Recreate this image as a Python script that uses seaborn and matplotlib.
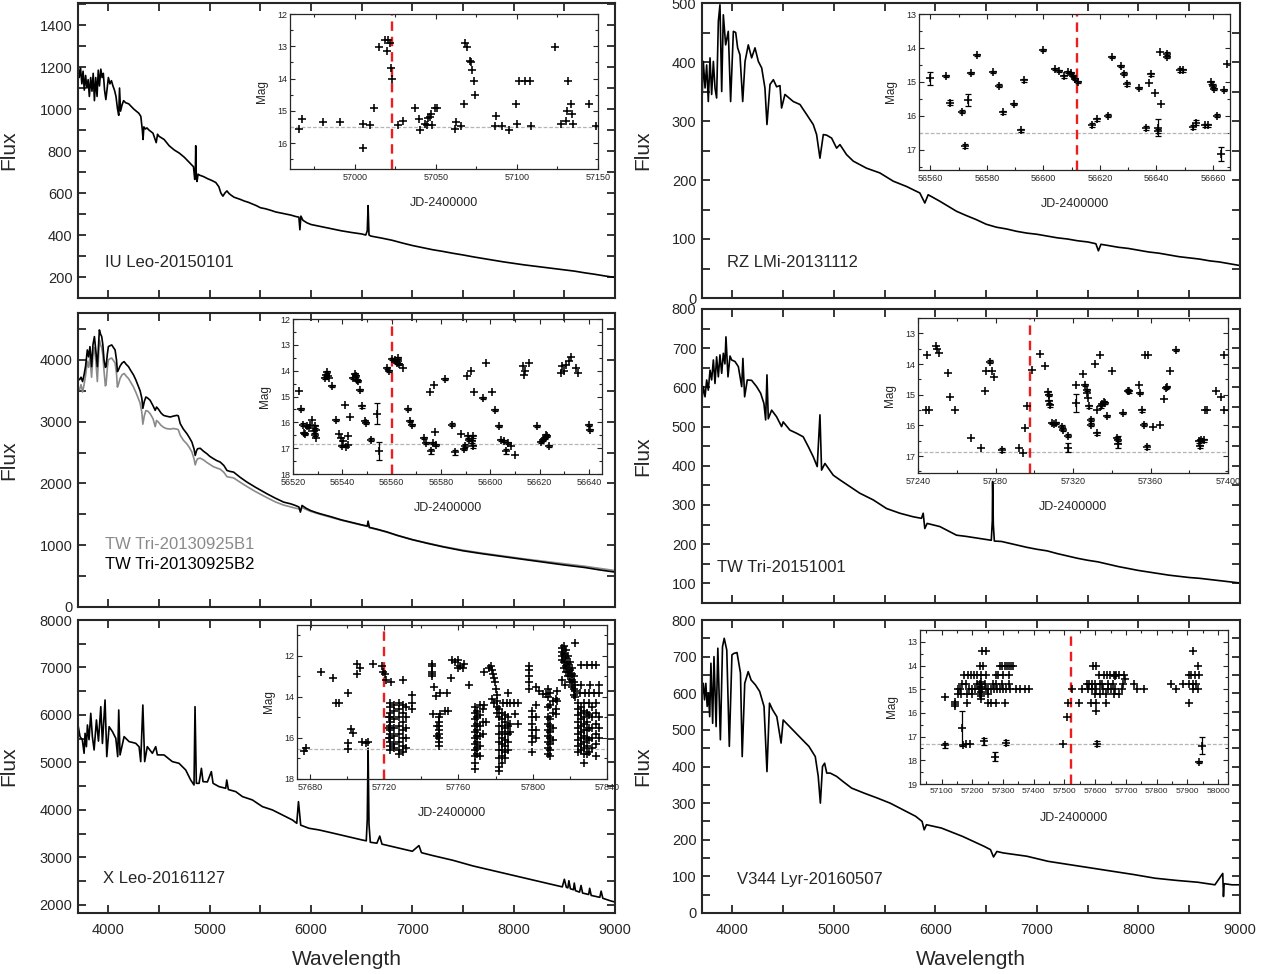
import matplotlib
matplotlib.use("Agg")
import matplotlib.pyplot as plt
import seaborn as sns
from matplotlib.ticker import MultipleLocator

sns.set_style("ticks")
plt.rcParams['font.family'] = ['Liberation Sans', 'DejaVu Sans']

# ---------------- spectra ----------------
iu_wl = [3700,3712,3725,3738,3750,3762,3775,3788,3800,3812,3825,3838,3850,3862,3875,3888,3900,3912,3925,3938,3950,3962,3975,3988,4000,4015,4030,4045,4060,4075,4090,4102,4110,4120,4135,4150,4170,4200,4250,4300,4320,4335,4342,4350,4365,4380,4400,4440,4472,4485,4500,4550,4600,4650,4700,4750,4800,4840,4852,4858,4862,4868,4875,4885,4900,4940,4980,5020,5060,5090,5110,5130,5150,5170,5190,5210,5240,5270,5300,5340,5380,5420,5460,5500,5550,5600,5650,5700,5750,5800,5850,5880,5890,5900,5920,5960,6000,6100,6200,6300,6400,6500,6540,6555,6563,6572,6590,6700,6800,6900,7000,7100,7200,7300,7400,7500,7600,7700,7800,7900,8000,8100,8200,8300,8400,8500,8600,8700,8800,8900,9000]
iu_fl = [1210,1150,1195,1120,1180,1090,1160,1100,1140,1060,1150,1085,1170,1040,1150,1060,1185,1110,1190,1150,1170,1090,1045,1100,1150,1120,1135,1110,1090,1060,1000,970,1100,990,1020,1040,1030,1025,1000,980,965,900,855,915,905,910,900,885,840,880,870,855,825,805,790,770,745,725,665,700,825,670,655,690,685,678,668,660,650,630,600,585,600,610,598,590,580,575,570,562,556,548,540,530,525,518,510,505,500,495,488,485,425,490,470,458,450,440,430,420,412,405,400,420,540,400,395,385,375,362,350,340,330,322,313,305,296,288,280,272,265,258,252,246,240,234,228,220,213,205,198]

rz_wl = [3700,3713,3730,3746,3762,3779,3795,3812,3828,3844,3861,3877,3894,3910,3933,3959,3982,4009,4032,4051,4074,4101,4124,4156,4189,4222,4255,4288,4320,4340,4370,4403,4435,4468,4484,4517,4599,4665,4731,4796,4829,4862,4895,4928,4977,5026,5059,5124,5190,5321,5452,5584,5715,5846,5895,5928,6043,6207,6300,6400,6500,6600,6700,6800,6900,7000,7100,7200,7300,7400,7500,7580,7605,7630,7700,7800,7900,8000,8100,8200,8300,8400,8500,8600,8700,8800,8900,9000]
rz_fl = [333,401,356,395,333,407,345,401,356,339,469,497,350,480,429,452,333,452,450,424,412,333,401,429,407,424,401,390,356,294,362,370,358,360,322,345,333,328,311,294,277,237,277,276,271,254,260,243,232,220,212,198,189,178,161,175,164,147,140,133,125,120,117,113,110,108,105,102,100,97,95,92,80,91,89,86,84,81,78,76,73,70,68,66,63,61,58,55]

tw13_wl = [3700,3715,3730,3745,3760,3775,3792,3805,3818,3834,3848,3862,3876,3891,3911,3922,3934,3945,3957,3970,3977,3990,4000,4015,4033,4050,4066,4080,4089,4102,4115,4135,4155,4175,4198,4220,4248,4270,4297,4313,4330,4340,4355,4370,4390,4412,4440,4462,4475,4495,4520,4544,4570,4610,4640,4676,4690,4709,4740,4775,4800,4824,4845,4857,4870,4880,4906,4940,4972,5000,5038,5070,5104,5140,5170,5200,5236,5300,5368,5450,5565,5650,5730,5800,5845,5880,5895,5911,5950,5993,6050,6092,6200,6300,6400,6500,6555,6563,6575,6650,6750,6850,7000,7150,7300,7500,7700,7900,8100,8300,8500,8700,8850,9000]
tw13_b2 = [3703,3680,3720,3650,3760,3900,4162,4050,4216,3892,4250,4378,4150,3892,4486,4420,4378,4250,4000,3880,3892,4100,4216,4230,4243,4200,4162,4000,3811,3850,3900,3950,3973,3930,3892,3830,3757,3680,3568,3500,3380,3216,3330,3400,3380,3346,3260,3184,3238,3200,3140,3103,3090,3076,3090,3103,3095,2968,2880,2806,2740,2670,2560,2454,2530,2562,2570,2520,2482,2440,2400,2370,2346,2290,2211,2195,2184,2100,2022,1940,1833,1760,1698,1670,1644,1620,1536,1644,1600,1563,1530,1509,1460,1410,1370,1330,1310,1390,1290,1260,1215,1160,1090,1030,975,910,860,815,770,725,680,640,600,565]
tw13_b1 = [3550,3520,3600,3480,3600,3750,3980,3880,4050,3720,4080,4200,3980,3650,4320,4250,4200,4080,3820,3580,3600,3880,4000,4020,4030,3990,3950,3780,3560,3620,3700,3760,3780,3740,3700,3640,3560,3480,3370,3300,3150,2960,3100,3180,3170,3130,3050,2920,3020,2990,2940,2910,2890,2880,2890,2880,2870,2780,2700,2640,2580,2510,2400,2300,2370,2400,2410,2380,2340,2310,2270,2250,2230,2180,2110,2100,2090,2020,1950,1870,1770,1700,1650,1620,1600,1590,1560,1610,1580,1550,1520,1500,1450,1405,1365,1325,1305,1370,1285,1255,1210,1160,1090,1035,980,920,870,825,780,740,700,660,625,590]

tw15_wl = [3700,3713,3730,3746,3762,3779,3795,3812,3828,3844,3861,3877,3894,3910,3926,3936,3956,3976,3992,4025,4058,4091,4103,4120,4146,4189,4238,4278,4310,4327,4340,4353,4386,4435,4484,4500,4566,4632,4697,4747,4796,4835,4862,4878,4911,4993,5059,5157,5255,5387,5518,5649,5780,5862,5879,5895,5918,6043,6207,6300,6400,6500,6550,6560,6563,6570,6580,6650,6700,6800,6900,7000,7100,7200,7300,7400,7500,7600,7700,7800,7900,8000,8100,8200,8300,8400,8500,8600,8700,8800,8900,9000]
tw15_fl = [568,602,576,619,593,644,619,670,610,678,627,683,636,687,660,729,627,680,670,666,653,602,674,576,619,618,602,585,559,517,632,520,542,525,500,512,491,483,474,449,423,398,530,389,406,376,364,347,330,313,291,279,270,266,279,240,253,245,223,220,216,212,210,260,360,250,208,207,204,198,192,187,183,176,170,164,159,155,149,143,138,133,129,125,121,118,115,113,110,107,104,101]

xl_wl = [3700,3720,3743,3760,3770,3783,3793,3809,3826,3842,3859,3882,3902,3925,3941,3967,3984,4007,4040,4073,4092,4102,4115,4155,4204,4240,4270,4303,4319,4340,4358,4384,4434,4467,4483,4549,4631,4697,4763,4812,4845,4855,4868,4895,4918,4934,4977,5016,5033,5092,5158,5168,5184,5257,5323,5421,5520,5619,5717,5816,5859,5876,5898,5980,6079,6200,6300,6400,6500,6545,6555,6563,6572,6585,6650,6678,6700,6800,6900,7000,7065,7090,7200,7300,7400,7500,7600,7700,7800,7900,8000,8100,8200,8300,8400,8480,8500,8520,8535,8545,8560,8590,8598,8610,8650,8665,8680,8740,8750,8765,8850,8863,8880,8950,9000]
xl_fl = [5789,5544,5474,5193,5614,5333,5789,5480,6035,5540,5263,5895,5450,6175,5400,6316,5123,5754,5649,5509,5123,6105,5158,5544,5439,5420,5403,5330,5018,6210,5018,5333,5193,5333,5160,5158,5018,4982,4842,4631,4526,6175,4561,4560,4877,4596,4590,4807,4561,4491,4456,4631,4430,4386,4281,4211,4070,4000,3895,3789,3719,4175,3680,3614,3579,3520,3470,3420,3370,3350,3800,5300,3700,3320,3300,3450,3280,3230,3180,3130,3250,3100,3040,2990,2940,2880,2820,2770,2720,2670,2620,2570,2520,2470,2420,2380,2540,2370,2360,2510,2340,2320,2460,2300,2270,2410,2250,2220,2350,2200,2160,2290,2140,2090,2060]

v3_wl = [3700,3713,3725,3738,3751,3763,3776,3788,3805,3818,3839,3856,3881,3902,3919,3944,3969,3995,4016,4045,4079,4096,4121,4155,4184,4226,4268,4311,4340,4365,4395,4437,4479,4500,4563,4626,4689,4753,4816,4845,4866,4887,4908,4929,4963,5026,5089,5174,5300,5426,5553,5679,5805,5868,5889,5911,6058,6268,6479,6542,6572,6605,6668,6900,7111,7321,7532,7742,7953,8163,8374,8584,8753,8830,8837,8844,8921,9000]
v3_fl = [600,627,582,627,564,600,536,682,518,700,509,723,473,727,750,718,455,705,709,711,655,427,627,659,636,623,605,564,386,573,555,536,464,527,509,491,473,455,427,373,300,400,409,382,382,373,359,341,327,314,300,282,264,250,227,241,232,209,182,173,153,168,164,155,141,132,123,114,105,95,89,84,77,108,45,80,77,77]

# ---------------- light curves ----------------
iu_jd = [56965.4,56967.4,56980.2,56991.0,57005.3,57005.3,57009.6,57012.0,57015.2,57018.3,57020.3,57019.9,57021.4,57022.0,57023.0,57026.5,57029.6,57037.2,57039.5,57040.3,57043.4,57044.6,57045.4,57046.5,57047.1,57047.7,57049.5,57050.4,57061.9,57062.5,57065.2,57067.2,57068.1,57069.3,57071.1,57071.8,57072.2,57073.2,57074.4,57086.2,57087.2,57090.7,57094.8,57099.5,57100.2,57101.0,57105.1,57108.2,57108.4,57123.2,57126.9,57130.0,57131.0,57131.4,57133.1,57133.9,57134.5,57144.4,57148.5]
iu_mag = [15.56,15.25,15.33,15.33,15.40,16.15,15.45,14.92,13.01,12.80,12.80,13.16,12.89,13.68,14.01,15.45,15.31,14.92,15.26,15.59,15.40,15.45,15.23,15.18,15.09,15.43,14.92,14.92,15.57,15.36,15.48,14.79,12.91,13.01,13.47,13.49,13.73,14.09,14.51,15.46,15.15,15.48,15.59,14.79,15.40,14.09,14.09,14.09,15.48,13.01,15.40,15.30,14.99,14.09,14.79,15.10,15.40,14.79,15.48]

rz_obs = [(56560.0,14.89,0.19),(56565.6,14.84,0.03),(56566.8,15.62,0.07),(56571.2,15.88,0.05),(56572.2,16.89,0.05),(56573.4,15.53,0.17),(56574.4,14.74,0.04),(56576.6,14.20,0.03),(56582.1,14.71,0.04),(56584.4,15.11,0.05),(56585.6,15.90,0.05),(56589.7,15.65,0.04),(56592.1,16.43,0.04),(56593.2,14.96,0.04),(56599.8,14.07,0.03),(56604.1,14.63,0.03),(56605.4,14.69,0.03),(56607.4,14.84,0.05),(56608.6,14.71,0.03),(56609.6,14.74,0.03),(56610.4,14.84,0.03),(56611.2,14.91,0.03),(56612.2,15.01,0.03),(56617.2,16.27,0.07),(56618.8,16.11,0.04),(56622.9,16.00,0.04),(56624.1,14.27,0.04),(56627.3,14.54,0.03),(56628.5,14.76,0.04),(56629.6,15.06,0.05),(56633.8,15.18,0.04),(56636.3,16.36,0.06),(56637.3,15.04,0.0),(56638.2,14.78,0.05),(56639.4,15.34,0.0),(56640.5,16.35,0.25),(56640.6,16.45,0.05),(56641.3,14.12,0.0),(56641.6,15.65,0.0),(56643.8,14.17,0.04),(56643.8,14.27,0.04),(56648.2,14.66,0.06),(56649.2,14.66,0.04),(56653.0,16.33,0.07),(56654.0,16.20,0.06),(56657.0,16.28,0.04),(56658.1,16.28,0.04),(56659.3,15.01,0.04),(56659.9,15.11,0.04),(56660.5,15.21,0.04),(56661.4,16.00,0.04),(56662.9,17.12,0.2),(56663.8,15.24,0.04),(56665.0,14.47,0.0)]

tw13_obs = [(56522.3,14.80,0.0),(56523.2,15.48,0.04),(56524.0,16.09,0.05),(56524.3,16.41,0.04),(56525.0,16.45,0.04),(56525.7,16.15,0.04),(56526.3,16.22,0.0),(56527.0,16.09,0.0),(56527.7,15.90,0.0),(56528.4,16.35,0.05),(56528.8,16.15,0.05),(56529.1,16.48,0.05),(56529.4,16.61,0.0),(56529.4,16.28,0.0),(56532.8,14.28,0.04),(56533.3,14.15,0.04),(56533.7,14.06,0.04),(56534.2,14.22,0.0),(56534.7,14.28,0.0),(56535.8,14.61,0.04),(56537.5,15.90,0.04),(56538.5,16.45,0.0),(56539.4,16.61,0.0),(56539.8,16.90,0.04),(56540.2,16.74,0.0),(56540.9,15.34,0.0),(56541.4,16.95,0.0),(56542.1,16.86,0.0),(56542.5,16.52,0.0),(56543.2,15.79,0.0),(56544.3,14.28,0.04),(56545.0,14.13,0.04),(56545.5,14.22,0.04),(56545.9,14.35,0.04),(56546.4,14.41,0.04),(56547.2,14.74,0.04),(56547.9,15.38,0.07),(56549.0,15.96,0.04),(56549.4,16.03,0.04),(56551.7,16.67,0.07),(56554.0,15.66,0.4),(56554.9,17.12,0.35),(56558.0,13.90,0.04),(56559.0,14.03,0.04),(56560.3,13.55,0.04),(56561.4,13.57,0.04),(56562.0,13.70,0.04),(56562.4,13.51,0.04),(56562.7,13.64,0.1),(56563.1,13.74,0.04),(56564.5,13.90,0.0),(56566.5,15.48,0.04),(56567.4,15.96,0.04),(56568.1,16.09,0.04),(56573.2,16.61,0.04),(56574.1,16.80,0.04),(56575.4,14.83,0.0),(56576.1,17.12,0.1),(56576.8,16.80,0.04),(56577.3,14.54,0.0),(56577.6,16.39,0.0),(56578.1,16.86,0.04),(56581.6,14.32,0.04),(56584.4,16.09,0.05),(56585.6,17.16,0.1),(56588.3,16.45,0.0),(56589.3,17.03,0.05),(56589.7,16.90,0.05),(56590.6,14.22,0.0),(56591.0,16.54,0.05),(56591.4,16.67,0.05),(56592.1,14.03,0.0),(56592.4,16.74,0.05),(56592.8,16.54,0.05),(56593.0,16.93,0.05),(56593.3,14.84,0.0),(56596.9,15.06,0.04),(56598.4,13.70,0.0),(56600.8,14.83,0.0),(56601.8,15.51,0.04),(56603.6,16.15,0.04),(56604.5,16.67,0.04),(56605.4,16.74,0.04),(56606.5,17.12,0.1),(56607.2,16.80,0.05),(56608.5,16.93,0.0),(56609.9,17.25,0.0),(56613.3,13.83,0.0),(56613.7,14.15,0.0),(56614.2,14.00,0.0),(56615.9,13.70,0.0),(56619.0,16.15,0.04),(56620.7,16.77,0.04),(56621.3,16.67,0.04),(56622.0,16.61,0.04),(56622.4,16.48,0.04),(56622.9,16.52,0.04),(56623.8,16.93,0.04),(56628.5,14.09,0.0),(56629.0,13.83,0.0),(56629.7,14.03,0.0),(56630.8,13.77,0.0),(56631.9,13.64,0.0),(56632.8,13.48,0.0),(56634.8,13.90,0.0),(56635.5,14.09,0.0),(56640.0,16.09,0.04),(56640.6,16.31,0.04)]

tw15_obs = [(57244.0,15.51,0),(57245.5,15.51,0),(57244.7,13.72,0),(57249.5,13.40,0),(57250.0,13.51,0),(57250.7,13.65,0),(57255.5,14.30,0),(57256.4,15.08,0),(57259.3,15.51,0),(57267.2,16.41,0),(57272.4,16.73,0),(57274.5,14.89,0),(57275.3,14.24,0),(57277.4,13.92,0.04),(57278.4,14.22,0),(57279.3,14.41,0),(57283.4,16.81,0.07),(57292.1,16.73,0),(57294.0,16.89,0),(57295.0,16.08,0),(57296.0,15.38,0),(57299.0,14.19,0),(57302.8,13.67,0),(57305.5,14.05,0),(57307.2,14.92,0.04),(57307.6,15.00,0.04),(57307.6,15.22,0.04),(57308.1,15.35,0.04),(57309.3,15.92,0.04),(57310.3,15.95,0.04),(57311.2,15.92,0.04),(57314.1,16.05,0.05),(57314.7,16.14,0.05),(57317.6,16.33,0.05),(57317.6,16.73,0.15),(57321.4,14.68,0),(57321.6,15.27,0.3),(57325.3,14.32,0),(57326.2,14.68,0.04),(57327.1,14.84,0.04),(57327.4,14.95,0),(57327.9,15.11,0),(57328.4,15.38,0.04),(57329.1,15.81,0.05),(57329.3,15.97,0.05),(57331.4,14.01,0),(57332.2,16.26,0.04),(57332.2,15.51,0),(57333.9,13.70,0),(57334.3,15.38,0.04),(57335.2,15.30,0.04),(57336.0,15.25,0.04),(57336.6,15.27,0.04),(57337.4,15.70,0.04),(57340.0,14.22,0),(57342.6,16.41,0.04),(57343.4,16.46,0.1),(57343.4,16.62,0.1),(57345.7,15.59,0.04),(57348.3,14.87,0.05),(57349.1,14.89,0.05),(57354.3,14.68,0),(57354.7,14.95,0.04),(57355.5,15.51,0.04),(57356.4,15.97,0.04),(57357.2,13.70,0),(57358.4,16.70,0.07),(57358.9,13.70,0),(57361.2,16.05,0),(57365.0,15.97,0),(57367.1,15.14,0),(57367.9,14.78,0.04),(57368.4,14.75,0.04),(57370.2,14.24,0),(57373.3,13.54,0.04),(57384.8,16.51,0.05),(57385.3,16.68,0.05),(57386.2,16.46,0.05),(57387.4,16.48,0.05),(57388.3,15.51,0),(57389.1,15.51,0),(57393.8,14.87,0),(57396.6,15.08,0),(57397.8,13.70,0),(57397.8,15.49,0)]

# X Leo: groups of (JD, [mags observed at that JD])
xleo_groups = [
    (57677,[16.62]),(57678,[16.5]),(57686,[12.8]),(57692.4,[13.1]),(57694,[14.3]),(57695.5,[14.3]),
    (57700.4,[13.8,16.25,16.55]),(57702.2,[15.55]),(57703.3,[15.75]),(57705.5,[12.4,12.9]),(57707,[12.6]),
    (57708,[16.2]),(57710,[16.25]),(57711,[16.2]),(57714.2,[12.4]),(57719,[12.5]),(57719.5,[12.8]),
    (57720.5,[12.9]),(57721,[13.2]),(57723.5,[13.3]),
    (57722.5,[15.0,15.5,16.0]),
    (57723,[14.3,14.5,14.8,15.0,15.2,15.4,15.6,15.8,16.0,16.2,16.4,16.6]),
    (57725,[14.4,14.7,15.1,15.5,15.9,16.3,16.5]),
    (57728,[14.3,14.6,15.0,15.4,15.8,16.2,16.6,16.8]),
    (57730,[13.2,14.4,14.8,15.2,15.6,16.0,16.4,16.7]),
    (57731.5,[14.5,15.0,15.5,16.0,16.5]),
    (57735,[13.9,14.3,14.6]),
    (57745.5,[12.4,12.5,12.8,12.9,13.0]),(57747,[13.5]),(57748,[13.95]),(57746.5,[14.85]),
    (57750,[14.85,13.8]),(57754,[13.8]),(57752.5,[14.7]),(57754.5,[14.7]),
    (57749.5,[15.0,15.2,15.4,15.6,15.8,16.0,16.2,16.4]),(57748.5,[15.4,15.9]),
    (57756,[13.1]),(57756.5,[12.2]),(57758,[12.3]),(57759.5,[12.2]),(57761,[12.5]),(57762.5,[12.6]),
    (57760,[12.6]),(57763,[12.4]),(57765.8,[13.4]),
    (57769,[14.5,14.8,15.1,15.4,15.7,16.0,16.3,16.6,16.9,17.2,17.5]),
    (57770,[14.7,15.0,15.3,15.6,15.9,16.2,16.5,16.8]),
    (57771.5,[14.4,14.9,15.4,15.9,16.4,16.9]),
    (57773,[14.6,15.2,15.8]),
    (57774,[12.8,14.4]),(57775,[15.2]),
    (57776.5,[12.6]),(57777.5,[12.5]),(57778,[12.7,14.1]),(57778.5,[12.9]),(57779,[13.1,14.3]),
    (57779.5,[13.3]),(57780,[13.6]),(57780.5,[13.9]),(57781,[14.2,14.5,14.8]),
    (57784,[14.3]),(57786,[14.3]),(57788,[14.3]),(57790,[14.3]),(57792,[14.3]),
    (57782,[14.6,15.0,15.4,15.8,16.2,16.6,17.0,17.4,17.6]),
    (57783.5,[14.8,15.1,15.4,15.7,16.0,16.3,16.6,16.9,17.2]),
    (57785,[14.9,15.2,15.5,15.8,16.1,16.4,16.7,17.0]),
    (57786.5,[13.8,15.0,15.4,15.8,16.2,16.6]),
    (57788,[15.3,15.7]),(57790.5,[14.85]),(57792,[15.3]),
    (57798,[12.5,12.7,13.0,13.3,13.6]),(57801.5,[13.5]),(57803.5,[13.7]),
    (57799.5,[14.7,15.0,15.3,15.6,15.9,16.2,16.7]),
    (57802,[14.4,15.0,15.6,16.0]),
    (57805.5,[13.85]),(57807,[13.85]),
    (57808,[13.6,14.0,14.5,15.0,15.3,15.6,15.9,16.2,16.5,16.8]),
    (57809.5,[13.8,14.4,15.1,15.4,15.7,16.0,16.3,16.6,16.9]),
    (57811,[14.2,14.8,15.5,16.1]),
    (57812.5,[14.1,14.6,14.85]),(57813,[13.7,14.2]),
    (57815.5,[13.2]),(57817.3,[13.4]),
    (57816,[11.6,11.8,12.0,12.2]),(57817,[11.5,11.9,12.3,12.6]),(57818,[11.7,12.1,12.5,12.8]),
    (57819,[12.0,12.4,12.8,13.0]),(57820,[12.3,12.7,13.0,13.3]),(57821,[12.6,12.9,13.2,13.5]),
    (57822,[13.0,13.3,13.6,13.9]),(57823,[13.4,13.7,14.0]),(57822.7,[11.4]),
    (57824.5,[14.3,14.6,14.9,15.2,15.5,15.8,16.1,16.4,16.7]),
    (57826,[12.45,13.4,14.5,14.8,15.1,15.4,15.7,16.0,16.3,16.6]),
    (57827.5,[14.3,14.7,15.0,15.3,15.6,15.9,16.2,16.5,16.8,17.2]),
    (57829,[12.45,14.8,15.2,15.6,16.0,16.4,16.8]),
    (57830.5,[13.8,14.3,14.9,15.5,16.1,16.7]),
    (57832,[12.45,14.5,15.0,15.5,16.0,16.5]),
    (57834,[12.45,14.3,14.8,15.3,15.8,16.3,16.9]),
    (57835.5,[13.4,13.8,15.0,15.5,16.0]),
    (57825.5,[13.8]),(57828,[13.8]),(57831,[13.4]),(57833,[13.8]),
]

# V344 Lyr: rows of (mag, [JDs]) plus single points and points with error bars
v344_rows = [
    (13.4,[57232,57246,57918]),
    (14.0,[57225,57236,57290,57298,57305,57312,57318,57325,57332,57594,57604,57934]),
    (14.4,[57172,57186,57196,57206,57216,57228,57246,57276,57285,57300,57320,57611,57628,57638,57648,57660,57668,57676,57694,57906,57912,57924,57938]),
    (14.8,[57168,57180,57214,57226,57240,57266,57276,57296,57320,57572,57580,57590,57600,57614,57622,57640,57658,57690,57726,57848,57886,57906,57918,57928]),
    (15.0,[57152,57160,57190,57200,57210,57222,57232,57244,57252,57262,57272,57282,57290,57300,57310,57324,57342,57356,57370,57384,57524,57556,57576,57588,57604,57626,57642,57652,57666,57688,57736,57758,57862,57918,57936]),
    (15.2,[57155,57165,57182,57200,57225,57250,57600,57616,57636,57660,57676]),
    (15.6,[57183,57250,57262,57276,57308,57512,57546,57586,57604,57634,57904]),
]
v344_single = [(57228,14.7),(57228,14.9),(57228,15.1),(57228,15.3),(57228,15.4),(57144,15.55),(57144,15.62),(57144,15.7),
               (57664,14.45),(57111,15.31),(57507,16.18),(57603,15.9),(57494,17.3),(57170,17.35),(57181,17.33),
               (57193,17.3),(57698,14.55)]
v344_err = [(57110,17.37,0.1),(57167,16.65,0.75),(57239,17.2,0.15),(57274,17.85,0.2),(57311,17.25,0.1),
            (57605,17.3,0.1),(57946,17.38,0.35),(57937,18.06,0.05)]

# ---------------- figure ----------------
W, H = 1268, 974
fig = plt.figure(figsize=(W / 100, H / 100), dpi=100)


def px_axes(x0, y0, x1, y1):
    return fig.add_axes([x0 / W, 1 - y1 / H, (x1 - x0) / W, (y1 - y0) / H])


def main_panel(rect, ylim, ymaj, ymin, bottom, right_col):
    ax = px_axes(*rect)
    ax.set_xlim(3700, 9000)
    ax.set_ylim(*ylim)
    ax.xaxis.set_major_locator(MultipleLocator(1000))
    ax.xaxis.set_minor_locator(MultipleLocator(500))
    ax.yaxis.set_major_locator(MultipleLocator(ymaj))
    ax.yaxis.set_minor_locator(MultipleLocator(ymin))
    ax.tick_params(which='both', direction='in', top=True, right=True, length=6, width=1.3,
                   labelsize=10.5, pad=4)
    ax.tick_params(axis='x', pad=7)
    for s in ax.spines.values():
        s.set_linewidth(1.5)
    ax.set_ylabel('Flux', fontsize=15)
    ax.yaxis.set_label_coords(-0.112 if not right_col else -0.093, 0.5)
    if bottom:
        ax.set_xlabel('Wavelength', fontsize=15)
        ax.xaxis.set_label_coords(0.5, -0.125)
    else:
        ax.tick_params(labelbottom=False)
        ax.set_xlabel('')
    return ax


def spectrum(ax, wl, fl, color='black'):
    sns.lineplot(x=wl, y=fl, ax=ax, color=color, lw=1.2, estimator=None, sort=False)


def inset(rect, jd, mag, err_pts, xlim, ylim, xmaj, xmin, ymaj, ymin, red_x, gray_y, xlab_size=6.5):
    axi = px_axes(*rect)
    axi.set_facecolor('none')
    axi.axhline(gray_y, color='#b5b5b5', lw=0.9, ls=(0, (3, 1.5)), zorder=1)
    axi.axvline(red_x, color='#ee1c1c', lw=1.7, ls=(0, (4, 2.5)), zorder=2)
    if err_pts:
        ex = [p[0] for p in err_pts]
        ey = [p[1] for p in err_pts]
        ee = [p[2] for p in err_pts]
        axi.errorbar(ex, ey, yerr=ee, fmt='none', ecolor='black', elinewidth=0.9,
                     capsize=2.2, capthick=0.9, zorder=3)
    sns.scatterplot(x=jd, y=mag, ax=axi, marker='+', color='black', s=34, linewidth=1.15,
                    zorder=4, legend=False)
    axi.set_xlim(*xlim)
    axi.set_ylim(*ylim)
    axi.xaxis.set_major_locator(MultipleLocator(xmaj))
    axi.xaxis.set_minor_locator(MultipleLocator(xmin))
    axi.yaxis.set_major_locator(MultipleLocator(ymaj))
    axi.yaxis.set_minor_locator(MultipleLocator(ymin))
    axi.tick_params(which='both', direction='in', top=True, right=True, width=0.8, pad=2)
    axi.tick_params(which='major', length=3.5)
    axi.tick_params(which='minor', length=2.5)
    axi.tick_params(axis='x', labelsize=xlab_size, pad=3)
    axi.tick_params(axis='y', labelsize=6.5)
    for s in axi.spines.values():
        s.set_linewidth(0.9)
    axi.set_xlabel('JD-2400000', fontsize=9)
    axi.set_ylabel('Mag', fontsize=8.5)
    axi.xaxis.set_label_coords(0.5, -0.18)
    axi.yaxis.set_label_coords(-0.07, 0.5)
    return axi


def split(obs):
    return [p[0] for p in obs], [p[1] for p in obs], [p for p in obs if p[2] > 0]


# ---- left column ----
ax1 = main_panel((78, 3, 615, 298), (100, 1505), 200, 100, False, False)
spectrum(ax1, iu_wl, iu_fl)
ax1.text(0.05, 0.119, 'IU Leo-20150101', transform=ax1.transAxes, fontsize=12, va='center')
inset((290, 14, 598, 169), iu_jd, iu_mag, [], (56960, 57150), (16.8, 12), 50, 25, 1, 0.5, 57023, 15.5)

ax2 = main_panel((78, 313, 615, 607), (0, 4760), 1000, 500, False, False)
spectrum(ax2, tw13_wl, tw13_b1, color='#8a8a8a')
spectrum(ax2, tw13_wl, tw13_b2)
ax2.text(0.05, 0.211, 'TW Tri-20130925B1', transform=ax2.transAxes, fontsize=12, va='center', color='#8a8a8a')
ax2.text(0.05, 0.143, 'TW Tri-20130925B2', transform=ax2.transAxes, fontsize=12, va='center', color='black')
j, m, e = split(tw13_obs)
inset((293, 319, 602, 474), j, m, e, (56520, 56645.3), (18, 12), 20, 10, 1, 0.5, 56560, 16.85)

ax3 = main_panel((78, 620, 615, 913), (1830, 8000), 1000, 500, True, False)
spectrum(ax3, xl_wl, xl_fl)
ax3.text(0.047, 0.119, 'X Leo-20161127', transform=ax3.transAxes, fontsize=12, va='center')
xj = [g[0] for g in xleo_groups for _ in g[1]]
xm = [v for g in xleo_groups for v in g[1]]
inset((297, 625, 607, 779), xj, xm, [], (57673, 57840), (18, 10.5), 40, 20, 2, 1, 57720, 16.55)

# ---- right column ----
ax4 = main_panel((702, 3, 1240, 298), (0, 500), 100, 50, False, True)
spectrum(ax4, rz_wl, rz_fl)
ax4.text(0.046, 0.119, 'RZ LMi-20131112', transform=ax4.transAxes, fontsize=12, va='center')
j, m, e = split(rz_obs)
inset((919, 14, 1230, 170), j, m, e, (56556, 56666), (17.6, 13), 20, 10, 1, 0.5, 56612, 16.5)

ax5 = main_panel((702, 309, 1240, 603), (50, 800), 100, 50, False, True)
spectrum(ax5, tw15_wl, tw15_fl)
ax5.text(0.028, 0.122, 'TW Tri-20151001', transform=ax5.transAxes, fontsize=12, va='center')
j, m, e = split(tw15_obs)
inset((918, 318, 1228, 473), j, m, e, (57240, 57400), (17.55, 12.5), 40, 20, 1, 0.5, 57298, 16.86)

ax6 = main_panel((702, 620, 1240, 913), (0, 800), 100, 50, True, True)
spectrum(ax6, v3_wl, v3_fl)
ax6.text(0.065, 0.113, 'V344 Lyr-20160507', transform=ax6.transAxes, fontsize=12, va='center')
vj = [x for row in v344_rows for x in row[1]] + [p[0] for p in v344_single] + [p[0] for p in v344_err]
vm = [row[0] for row in v344_rows for _ in row[1]] + [p[1] for p in v344_single] + [p[1] for p in v344_err]
inset((920, 630, 1228, 784), vj, vm, v344_err, (57030, 58032), (19, 12.5), 100, 50, 1, 0.5, 57522, 17.3,
      xlab_size=6)

fig.savefig('out.png', dpi=100)
